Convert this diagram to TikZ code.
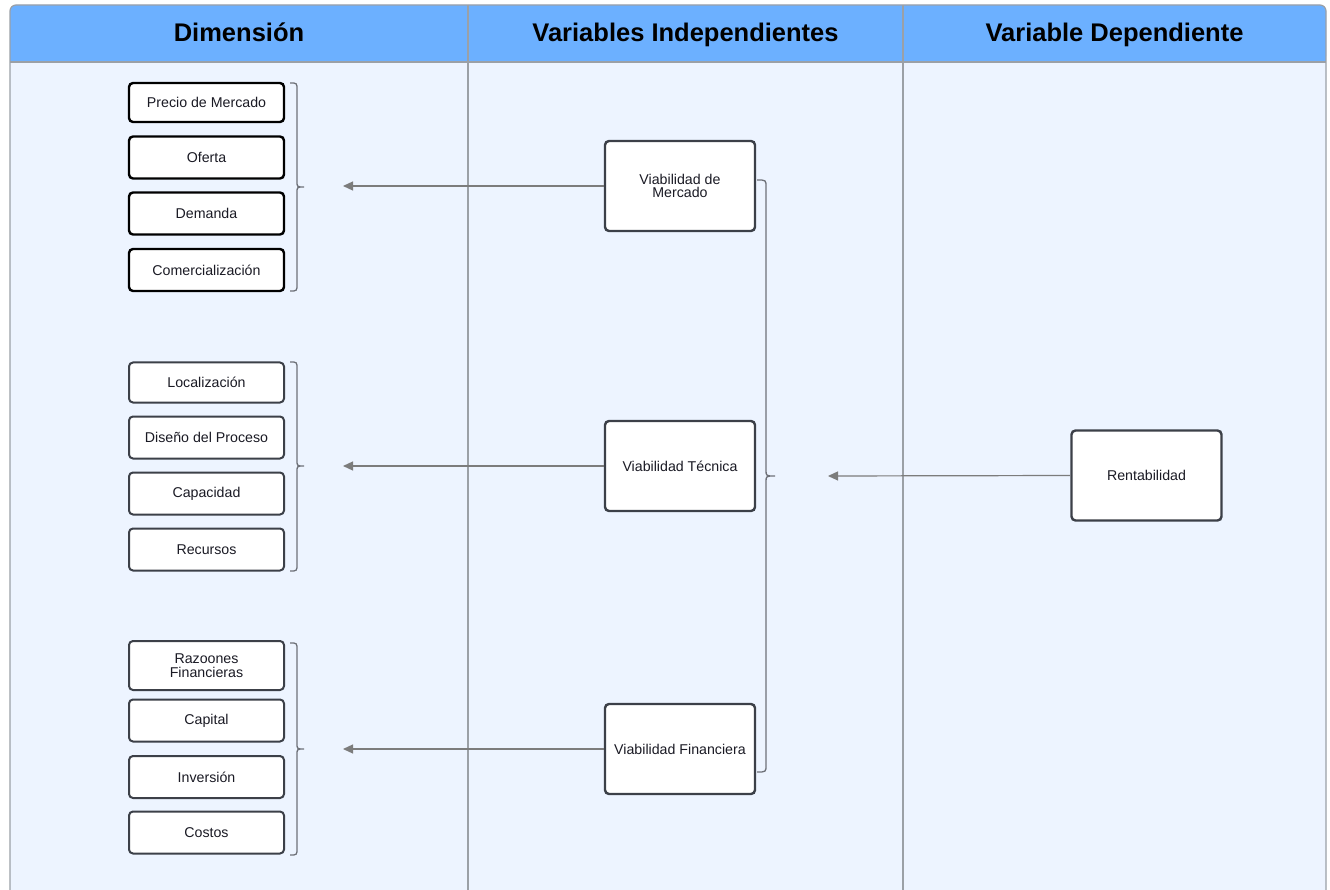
\documentclass[tikz,border=0pt]{standalone}
\usepackage{fontspec}
\setmainfont{Liberation Sans}
\usetikzlibrary{arrows.meta}
\definecolor{hdr}{HTML}{6CB0FF}
\definecolor{bodybg}{HTML}{EDF4FF}
\definecolor{framec}{HTML}{9BA0A6}
\definecolor{boxline}{HTML}{3C4048}
\definecolor{linkc}{HTML}{7C7C7C}
\definecolor{bracec}{HTML}{6E7178}
\definecolor{txt}{HTML}{1A1A24}

% brace opening to the right: #1 = x of the ends, #2 = x of the spine,
% #3 = x of the tip, #4 = top y, #5 = tip y, #6 = bottom y
\newcommand{\rightbrace}[6]{%
  \draw[bracestyle] (#1,#4) .. controls (#2,#4) .. (#2,#4+7)
    -- (#2,#5-6) .. controls (#2,#5) .. (#3,#5)
    .. controls (#2,#5) .. (#2,#5+6)
    -- (#2,#6-7) .. controls (#2,#6) .. (#1,#6);}

\begin{document}
\begin{tikzpicture}[x=1pt,y=-1pt,
  item/.style={draw=boxline, line width=2pt, fill=white, rounded corners=4pt,
    minimum width=155pt, minimum height=42pt, inner sep=1pt, align=center,
    font=\fontsize{14.2}{13.5}\selectfont, text=txt},
  itemdark/.style={item, draw=black, line width=2.4pt},
  varbox/.style={item, minimum width=150pt, minimum height=90pt, line width=2.4pt},
  header/.style={font=\bfseries\fontsize{25.5}{27}\selectfont, text=black, anchor=base},
  arr/.style={draw=linkc, line width=1.2pt, -{Triangle[length=10pt,width=9pt]}},
  bracestyle/.style={draw=bracec, line width=1.3pt}]

\useasboundingbox (0,0) rectangle (1330,890);
\fill[white] (0,0) rectangle (1330,890);

% swimlane frame
\fill[bodybg, rounded corners=6pt] (10,900) -- (10,5) -- (1326,5) -- (1326,900) -- cycle;
\fill[hdr, rounded corners=6pt] (10,62) -- (10,5) -- (1326,5) -- (1326,62) -- cycle;
\fill[hdr] (10,20) rectangle (1326,62);
\draw[framec, line width=1.2pt, rounded corners=6pt] (10,900) -- (10,5) -- (1326,5) -- (1326,900);
\draw[framec, line width=1.2pt] (10,62) -- (1326,62);
\draw[framec, line width=1.2pt] (468,5) -- (468,900);
\draw[framec, line width=1.2pt] (903,5) -- (903,900);

\node[header] (h1) at (239,42) {Dimensión};
\node[header] (h2) at (685.5,42) {Variables Independientes};
\node[header] (h3) at (1114.5,42) {Variable Dependiente};

% market dimensions
\node[itemdark, minimum height=39pt] (d11) at (206.5,102.5) {Precio de Mercado};
\node[itemdark] (d12) at (206.5,157.5) {Oferta};
\node[itemdark] (d13) at (206.5,213.5) {Demanda};
\node[itemdark] (d14) at (206.5,270) {Comercialización};

% technical dimensions
\node[item, minimum height=40pt] (d21) at (206.5,382.5) {Localización};
\node[item] (d22) at (206.5,437.5) {Diseño del Proceso};
\node[item] (d23) at (206.5,493.5) {Capacidad};
\node[item] (d24) at (206.5,549.5) {Recursos};

% financial dimensions
\node[item, minimum height=49pt] (d31) at (206.5,665.5) {Razoones\\Financieras};
\node[item] (d32) at (206.5,720.5) {Capital};
\node[item] (d33) at (206.5,777) {Inversión};
\node[item] (d34) at (206.5,832.5) {Costos};

% independent variables
\node[varbox] (vm) at (680,186) {Viabilidad de\\Mercado};
\node[varbox] (vt) at (680,466) {Viabilidad Técnica};
\node[varbox] (vf) at (680,749) {Viabilidad Financiera};

% dependent variable
\node[varbox] (rent) at (1146.5,475.5) {Rentabilidad};

% braces grouping the dimensions
\rightbrace{290}{297}{304}{83}{187}{291}
\rightbrace{290}{297}{304}{362}{466}{571}
\rightbrace{290}{297}{304}{643}{749}{855}

% brace grouping the independent variables
\rightbrace{757}{766}{775}{180}{476}{772}

% connectors
\coordinate (g1) at (343,186);
\coordinate (g2) at (343,466);
\coordinate (g3) at (343,749);
\coordinate (gv) at (828,476);
\draw[arr] (vm.west) -- (g1);
\draw[arr] (vt.west) -- (g2);
\draw[arr] (vf.west) -- (g3);
\draw[arr] (rent.west) -- (gv);
\end{tikzpicture}
\end{document}
